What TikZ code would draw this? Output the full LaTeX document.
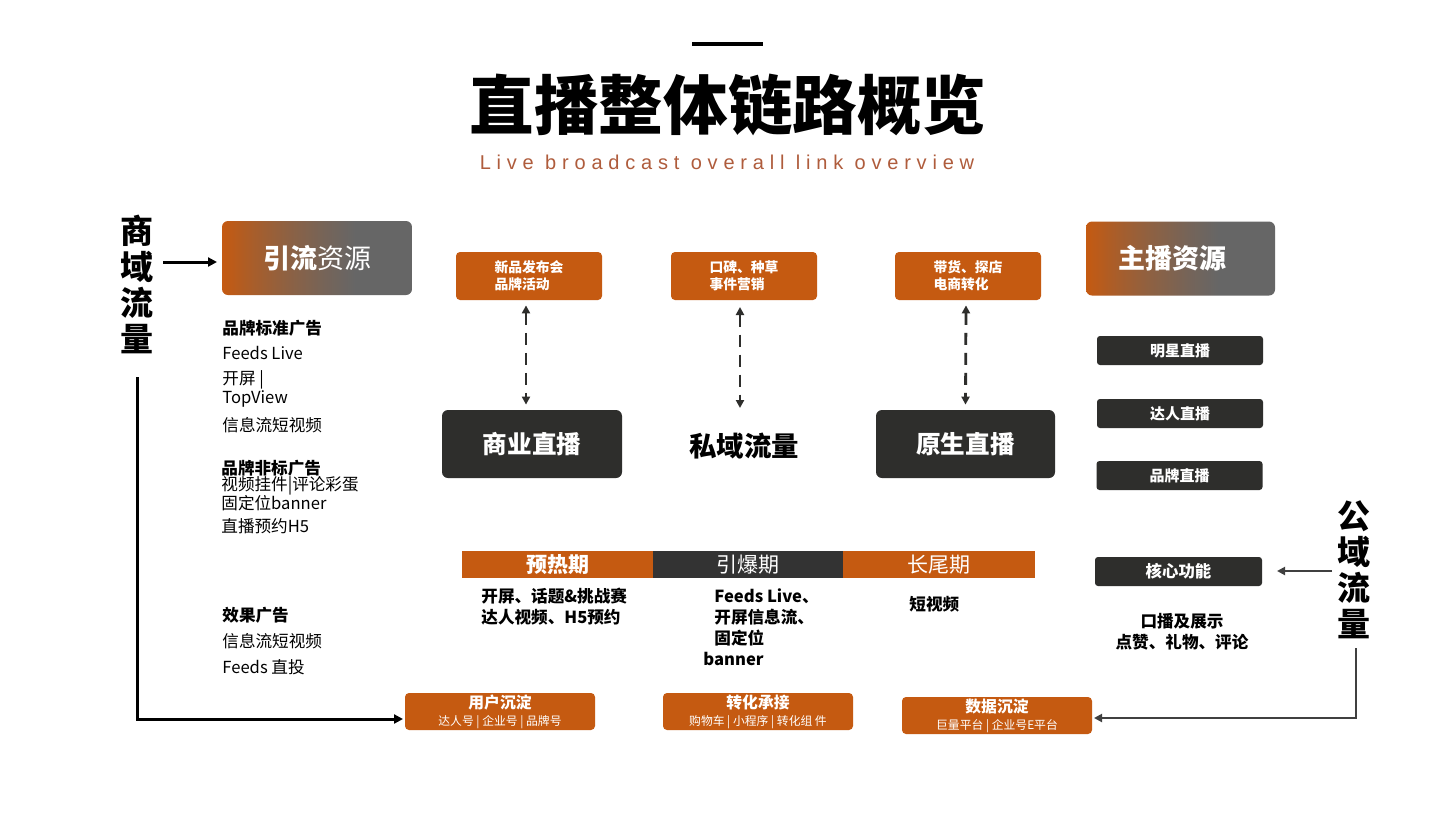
\documentclass[tikz,border=0pt]{standalone}
\usepackage{fontspec}
\setmainfont{Noto Sans CJK SC}
\newfontfamily\subfont[LetterSpace=29]{Liberation Sans}
\usetikzlibrary{arrows.meta,calc}
\definecolor{orng}{RGB}{197,90,17}
\definecolor{gry}{RGB}{102,102,102}
\definecolor{darkbox}{RGB}{46,46,44}
\definecolor{darkbar}{RGB}{51,51,51}
\definecolor{subc}{RGB}{175,92,60}
\definecolor{lin}{RGB}{64,64,64}
\pgfdeclarehorizontalshading{orgry}{100bp}{color(0bp)=(orng); color(25bp)=(orng); color(33bp)=(orng!70!gry); color(42bp)=(orng!42!gry); color(52bp)=(orng!16!gry); color(60bp)=(gry); color(100bp)=(gry)}
\newcommand\fsz[2]{\fontsize{#1pt}{#2pt}\selectfont}
\begin{document}
\begin{tikzpicture}[x=0.5pt,y=-0.5pt,
 gradbox/.style={rounded corners=3pt, shading=orgry, draw=none, text=white, minimum width=95pt, minimum height=37pt, inner sep=0pt, font=\fsz{13.5}{16}},
 obox/.style={rounded corners=2pt, fill=orng, text=white, inner sep=0pt, align=left, font=\fsz{6.9}{8.6}\bfseries, minimum width=73pt, minimum height=24pt},
 dbox/.style={rounded corners=3pt, fill=darkbox, text=white, inner sep=0pt, font=\fsz{12.3}{14}\bfseries, minimum width=90pt, minimum height=34pt},
 sbox/.style={rounded corners=1.5pt, fill=darkbox, text=white, inner sep=0pt, font=\fsz{7.5}{9}\bfseries, minimum width=83pt, minimum height=14.5pt},
 phasebox/.style={fill=orng, text=white, inner sep=0pt, minimum width=95.5pt, minimum height=13.5pt, font=\fsz{10.5}{12}},
 bbox/.style={rounded corners=2pt, fill=orng, text=white, inner sep=0pt, align=center, minimum width=95pt, minimum height=18.5pt, font=\fsz{6}{8.5}},
 ltxt/.style={anchor=west, inner sep=0pt, font=\fsz{8.3}{10}},
 ltxtb/.style={anchor=west, inner sep=0pt, font=\fsz{8.3}{10}\bfseries},
 btxt/.style={inner sep=0pt, font=\fsz{8.3}{10.5}\bfseries, align=left},
 vtxt/.style={inner sep=0pt, align=center, font=\fsz{16.5}{18}\bfseries},
 arr/.style={line width=1.5pt, -{Triangle[length=4.5pt,width=4.5pt]}},
 garr/.style={line width=1.2pt, lin, -{Triangle[length=4pt,width=4pt]}},
 dbl/.style={line width=1.4pt, darkbox, dash pattern=on 6pt off 4pt, {Triangle[length=4pt,width=4pt]}-{Triangle[length=4pt,width=4pt]}},
]
\useasboundingbox (0,0) rectangle (1453,816);
\fill[white] (0,0) rectangle (1453,816);

% title
\coordinate (barl) at (692,44);
\coordinate (barr) at (763,44);
\draw[line width=2pt] (barl) -- (barr);
\node[inner sep=0pt, font=\fsz{32.3}{36}\bfseries] (title) at (728,105) {直播整体链路概览};
\node[inner sep=0pt, text=subc, font=\subfont\fsz{10}{12}] (subtitle) at (727,162) {Live broadcast overall link overview};

% left side
\node[vtxt] (shangyu) at (137,284) {商\\域\\流\\量};
\node[gradbox] (yinliu) at (317,258) {\textbf{引流}资源};
\coordinate (a1) at (163,262);
\coordinate (a1e) at (217,262);
\draw[arr] (a1) -- (a1e);

\node[ltxtb] (l1) at (222,328) {品牌标准广告};
\node[ltxt] (l2) at (222,353) {Feeds Live};
\node[ltxt] (l3) at (222,380) {开屏 |};
\node[ltxt] (l4) at (222,399) {TopView};
\node[ltxt] (l5) at (222,425) {信息流短视频};
\node[ltxtb] (l6) at (221,468) {品牌非标广告};
\node[ltxt] (l7) at (221,486) {视频挂件|评论彩蛋};
\node[ltxt] (l8) at (221,503) {固定位banner};
\node[ltxt] (l9) at (221,526) {直播预约H5};
\node[ltxtb] (l10) at (222,615) {效果广告};
\node[ltxt] (l11) at (222,641) {信息流短视频};
\node[ltxt] (l12) at (222,667) {Feeds 直投};

% top orange boxes
\node[obox] (xinpin) at (529,276) {新品发布会\\品牌活动};
\node[obox] (koubei) at (744,276) {口碑、种草\\事件营销};
\node[obox] (daihuo) at (968,276) {带货、探店\\电商转化};

% dark boxes
\node[dbox] (shangye) at (532,444) {商业直播};
\node[inner sep=0pt, font=\fsz{13.7}{16}\bfseries] (siyu) at (744,446) {私域流量};
\node[dbox, minimum width=89.5pt] (yuansheng) at (965.5,444) {原生直播};

\draw[dbl] ([xshift=-1.5pt,yshift=-2.5pt]xinpin.south) -- ([xshift=-3pt,yshift=2.5pt]shangye.north);
\coordinate (m1) at (740,307);
\coordinate (m2) at (740,408);
\draw[dbl] (m1) -- (m2);
\draw[dbl] ([xshift=-1pt,yshift=-2.5pt]daihuo.south) -- ([xshift=0pt,yshift=2.5pt]yuansheng.north);

% phases
\node[phasebox, font=\fsz{10.5}{12}\bfseries] (yure) at (557.5,564.5) {预热期};
\node[phasebox, fill=darkbar, minimum width=95pt] (yinbao) at (748,564.5) {引爆期};
\node[phasebox, minimum width=96pt] (changwei) at (939,564.5) {长尾期};

\node[btxt, anchor=north west] (t1) at (481,588) {开屏、话题\&挑战赛\\达人视频、H5预约};
\node[btxt, anchor=north west] (t2) at (714,588) {Feeds Live、\\开屏信息流、\\固定位};
\node[btxt, anchor=west] (t3) at (703,659) {banner};
\node[btxt, anchor=west] (t4) at (909,604) {短视频};

% bottom boxes
\node[bbox] (yonghu) at (500,711.5) {{\fsz{7.9}{9}\bfseries 用户沉淀}\\{\fsz{5.9}{7}达人号 | 企业号 | 品牌号}};
\node[bbox] (zhuanhua) at (758,711.5) {{\fsz{7.9}{9}\bfseries 转化承接}\\{\fsz{5.9}{7}购物车 | 小程序 | 转化组 件}};
\node[bbox] (shuju) at (997,715.5) {{\fsz{7.9}{9}\bfseries 数据沉淀}\\{\fsz{5.9}{7}巨量平台 | 企业号E平台}};

\coordinate (ls) at (137,377);
\coordinate (le) at (403,719);
\draw[arr] (ls) |- (le);

% right side
\node[gradbox, minimum width=94.5pt, font=\fsz{13.5}{16}\bfseries] (zhubo) at (1180.5,258.5) {\hspace*{-8pt}主播资源};
\node[sbox] (mingxing) at (1180,350.5) {明星直播};
\node[sbox] (daren) at (1180,413.5) {达人直播};
\node[sbox] (pinpai) at (1179.5,475.5) {品牌直播};
\node[sbox, minimum width=83.5pt, font=\fsz{8.2}{10}\bfseries] (hexin) at (1178.5,571.5) {核心功能};
\node[btxt, align=center] (kou) at (1182,632) {口播及展示\\点赞、礼物、评论};

\node[vtxt] (gongyu) at (1354,570) {公\\域\\流\\量};
\coordinate (r1) at (1332,571);
\coordinate (r1e) at (1277,571);
\draw[garr] (r1) -- (r1e);
\coordinate (rs) at (1356,648);
\coordinate (re) at (1094,718);
\draw[garr] (rs) |- (re);
\end{tikzpicture}
\end{document}
